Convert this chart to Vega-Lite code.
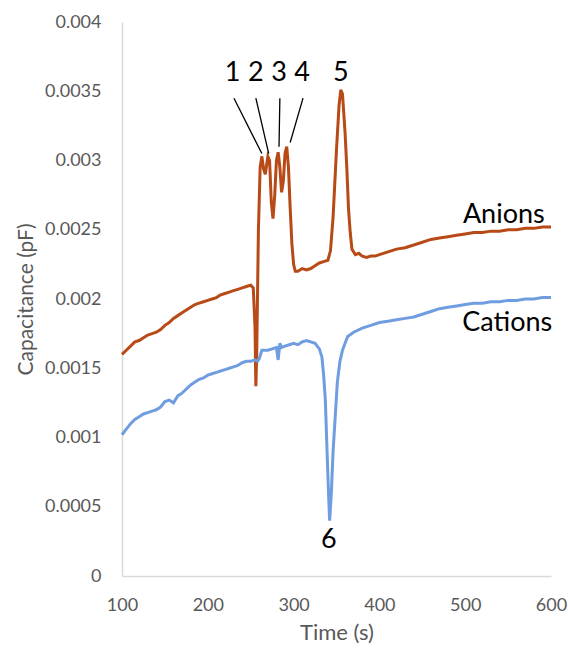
{
  "$schema": "https://vega.github.io/schema/vega-lite/v6.json",
  "autosize": {"type": "none"},
  "width": 429,
  "height": 554,
  "padding": {"left": 122, "top": 22, "right": 17, "bottom": 72},
  "background": "white",
  "config": {"view": {"stroke": null}, "font": "Lato"},
  "datasets": {
    "series": [
      {"t": 100, "v": 0.00160, "s": "Anions"},
      {"t": 105, "v": 0.00163, "s": "Anions"},
      {"t": 110, "v": 0.00166, "s": "Anions"},
      {"t": 115, "v": 0.00169, "s": "Anions"},
      {"t": 120, "v": 0.00170, "s": "Anions"},
      {"t": 125, "v": 0.00172, "s": "Anions"},
      {"t": 130, "v": 0.00174, "s": "Anions"},
      {"t": 135, "v": 0.00175, "s": "Anions"},
      {"t": 140, "v": 0.00176, "s": "Anions"},
      {"t": 145, "v": 0.00178, "s": "Anions"},
      {"t": 150, "v": 0.00181, "s": "Anions"},
      {"t": 155, "v": 0.00183, "s": "Anions"},
      {"t": 160, "v": 0.00186, "s": "Anions"},
      {"t": 165, "v": 0.00188, "s": "Anions"},
      {"t": 170, "v": 0.00190, "s": "Anions"},
      {"t": 175, "v": 0.00192, "s": "Anions"},
      {"t": 180, "v": 0.00194, "s": "Anions"},
      {"t": 185, "v": 0.00196, "s": "Anions"},
      {"t": 190, "v": 0.00197, "s": "Anions"},
      {"t": 195, "v": 0.00198, "s": "Anions"},
      {"t": 200, "v": 0.00199, "s": "Anions"},
      {"t": 205, "v": 0.00200, "s": "Anions"},
      {"t": 210, "v": 0.00201, "s": "Anions"},
      {"t": 215, "v": 0.00203, "s": "Anions"},
      {"t": 220, "v": 0.00204, "s": "Anions"},
      {"t": 225, "v": 0.00205, "s": "Anions"},
      {"t": 230, "v": 0.00206, "s": "Anions"},
      {"t": 235, "v": 0.00207, "s": "Anions"},
      {"t": 240, "v": 0.00208, "s": "Anions"},
      {"t": 245, "v": 0.00209, "s": "Anions"},
      {"t": 250, "v": 0.00210, "s": "Anions"},
      {"t": 253, "v": 0.00208, "s": "Anions"},
      {"t": 255, "v": 0.00180, "s": "Anions"},
      {"t": 256, "v": 0.00137, "s": "Anions"},
      {"t": 257, "v": 0.00160, "s": "Anions"},
      {"t": 259, "v": 0.00250, "s": "Anions"},
      {"t": 261, "v": 0.00295, "s": "Anions"},
      {"t": 263, "v": 0.00303, "s": "Anions"},
      {"t": 265, "v": 0.00294, "s": "Anions"},
      {"t": 267, "v": 0.00290, "s": "Anions"},
      {"t": 270, "v": 0.00303, "s": "Anions"},
      {"t": 272, "v": 0.00300, "s": "Anions"},
      {"t": 274, "v": 0.00270, "s": "Anions"},
      {"t": 276, "v": 0.00258, "s": "Anions"},
      {"t": 278, "v": 0.00275, "s": "Anions"},
      {"t": 280, "v": 0.00300, "s": "Anions"},
      {"t": 282, "v": 0.00306, "s": "Anions"},
      {"t": 284, "v": 0.00295, "s": "Anions"},
      {"t": 286, "v": 0.00277, "s": "Anions"},
      {"t": 288, "v": 0.00285, "s": "Anions"},
      {"t": 290, "v": 0.00305, "s": "Anions"},
      {"t": 292, "v": 0.00310, "s": "Anions"},
      {"t": 294, "v": 0.00295, "s": "Anions"},
      {"t": 296, "v": 0.00266, "s": "Anions"},
      {"t": 298, "v": 0.00240, "s": "Anions"},
      {"t": 300, "v": 0.00225, "s": "Anions"},
      {"t": 302, "v": 0.00220, "s": "Anions"},
      {"t": 305, "v": 0.00220, "s": "Anions"},
      {"t": 310, "v": 0.00222, "s": "Anions"},
      {"t": 315, "v": 0.00221, "s": "Anions"},
      {"t": 320, "v": 0.00222, "s": "Anions"},
      {"t": 325, "v": 0.00224, "s": "Anions"},
      {"t": 330, "v": 0.00226, "s": "Anions"},
      {"t": 335, "v": 0.00227, "s": "Anions"},
      {"t": 340, "v": 0.00228, "s": "Anions"},
      {"t": 343, "v": 0.00235, "s": "Anions"},
      {"t": 346, "v": 0.00259, "s": "Anions"},
      {"t": 350, "v": 0.00308, "s": "Anions"},
      {"t": 353, "v": 0.00340, "s": "Anions"},
      {"t": 355, "v": 0.00351, "s": "Anions"},
      {"t": 357, "v": 0.00348, "s": "Anions"},
      {"t": 360, "v": 0.00320, "s": "Anions"},
      {"t": 362, "v": 0.00295, "s": "Anions"},
      {"t": 364, "v": 0.00265, "s": "Anions"},
      {"t": 366, "v": 0.00248, "s": "Anions"},
      {"t": 368, "v": 0.00236, "s": "Anions"},
      {"t": 372, "v": 0.00232, "s": "Anions"},
      {"t": 376, "v": 0.00233, "s": "Anions"},
      {"t": 380, "v": 0.00231, "s": "Anions"},
      {"t": 385, "v": 0.00230, "s": "Anions"},
      {"t": 390, "v": 0.00231, "s": "Anions"},
      {"t": 395, "v": 0.00231, "s": "Anions"},
      {"t": 400, "v": 0.00232, "s": "Anions"},
      {"t": 410, "v": 0.00234, "s": "Anions"},
      {"t": 420, "v": 0.00236, "s": "Anions"},
      {"t": 430, "v": 0.00237, "s": "Anions"},
      {"t": 440, "v": 0.00239, "s": "Anions"},
      {"t": 450, "v": 0.00241, "s": "Anions"},
      {"t": 460, "v": 0.00243, "s": "Anions"},
      {"t": 470, "v": 0.00244, "s": "Anions"},
      {"t": 480, "v": 0.00245, "s": "Anions"},
      {"t": 490, "v": 0.00246, "s": "Anions"},
      {"t": 500, "v": 0.00247, "s": "Anions"},
      {"t": 510, "v": 0.00248, "s": "Anions"},
      {"t": 520, "v": 0.00248, "s": "Anions"},
      {"t": 530, "v": 0.00249, "s": "Anions"},
      {"t": 540, "v": 0.00249, "s": "Anions"},
      {"t": 550, "v": 0.00250, "s": "Anions"},
      {"t": 560, "v": 0.00250, "s": "Anions"},
      {"t": 570, "v": 0.00251, "s": "Anions"},
      {"t": 580, "v": 0.00251, "s": "Anions"},
      {"t": 590, "v": 0.00252, "s": "Anions"},
      {"t": 600, "v": 0.00252, "s": "Anions"},
      {"t": 100, "v": 0.00102, "s": "Cations"},
      {"t": 105, "v": 0.00106, "s": "Cations"},
      {"t": 110, "v": 0.00110, "s": "Cations"},
      {"t": 115, "v": 0.00113, "s": "Cations"},
      {"t": 120, "v": 0.00115, "s": "Cations"},
      {"t": 125, "v": 0.00117, "s": "Cations"},
      {"t": 130, "v": 0.00118, "s": "Cations"},
      {"t": 135, "v": 0.00119, "s": "Cations"},
      {"t": 140, "v": 0.00120, "s": "Cations"},
      {"t": 145, "v": 0.00122, "s": "Cations"},
      {"t": 150, "v": 0.00126, "s": "Cations"},
      {"t": 155, "v": 0.00127, "s": "Cations"},
      {"t": 160, "v": 0.00125, "s": "Cations"},
      {"t": 165, "v": 0.00130, "s": "Cations"},
      {"t": 170, "v": 0.00132, "s": "Cations"},
      {"t": 175, "v": 0.00135, "s": "Cations"},
      {"t": 180, "v": 0.00138, "s": "Cations"},
      {"t": 185, "v": 0.00140, "s": "Cations"},
      {"t": 190, "v": 0.00142, "s": "Cations"},
      {"t": 195, "v": 0.00143, "s": "Cations"},
      {"t": 200, "v": 0.00145, "s": "Cations"},
      {"t": 205, "v": 0.00146, "s": "Cations"},
      {"t": 210, "v": 0.00147, "s": "Cations"},
      {"t": 215, "v": 0.00148, "s": "Cations"},
      {"t": 220, "v": 0.00149, "s": "Cations"},
      {"t": 225, "v": 0.00150, "s": "Cations"},
      {"t": 230, "v": 0.00151, "s": "Cations"},
      {"t": 235, "v": 0.00152, "s": "Cations"},
      {"t": 240, "v": 0.00154, "s": "Cations"},
      {"t": 245, "v": 0.00155, "s": "Cations"},
      {"t": 250, "v": 0.00155, "s": "Cations"},
      {"t": 255, "v": 0.00156, "s": "Cations"},
      {"t": 258, "v": 0.00155, "s": "Cations"},
      {"t": 260, "v": 0.00157, "s": "Cations"},
      {"t": 263, "v": 0.00163, "s": "Cations"},
      {"t": 270, "v": 0.00163, "s": "Cations"},
      {"t": 275, "v": 0.00164, "s": "Cations"},
      {"t": 280, "v": 0.00165, "s": "Cations"},
      {"t": 282, "v": 0.00156, "s": "Cations"},
      {"t": 284, "v": 0.00168, "s": "Cations"},
      {"t": 286, "v": 0.00165, "s": "Cations"},
      {"t": 290, "v": 0.00166, "s": "Cations"},
      {"t": 295, "v": 0.00167, "s": "Cations"},
      {"t": 300, "v": 0.00168, "s": "Cations"},
      {"t": 305, "v": 0.00167, "s": "Cations"},
      {"t": 310, "v": 0.00169, "s": "Cations"},
      {"t": 315, "v": 0.00170, "s": "Cations"},
      {"t": 320, "v": 0.00169, "s": "Cations"},
      {"t": 325, "v": 0.00168, "s": "Cations"},
      {"t": 330, "v": 0.00164, "s": "Cations"},
      {"t": 333, "v": 0.00158, "s": "Cations"},
      {"t": 335, "v": 0.00145, "s": "Cations"},
      {"t": 337, "v": 0.00127, "s": "Cations"},
      {"t": 339, "v": 0.00090, "s": "Cations"},
      {"t": 341, "v": 0.00055, "s": "Cations"},
      {"t": 342, "v": 0.00040, "s": "Cations"},
      {"t": 344, "v": 0.00060, "s": "Cations"},
      {"t": 346, "v": 0.00090, "s": "Cations"},
      {"t": 348, "v": 0.00110, "s": "Cations"},
      {"t": 351, "v": 0.00140, "s": "Cations"},
      {"t": 354, "v": 0.00155, "s": "Cations"},
      {"t": 357, "v": 0.00163, "s": "Cations"},
      {"t": 360, "v": 0.00168, "s": "Cations"},
      {"t": 363, "v": 0.00173, "s": "Cations"},
      {"t": 370, "v": 0.00176, "s": "Cations"},
      {"t": 380, "v": 0.00179, "s": "Cations"},
      {"t": 390, "v": 0.00181, "s": "Cations"},
      {"t": 400, "v": 0.00183, "s": "Cations"},
      {"t": 410, "v": 0.00184, "s": "Cations"},
      {"t": 420, "v": 0.00185, "s": "Cations"},
      {"t": 430, "v": 0.00186, "s": "Cations"},
      {"t": 440, "v": 0.00187, "s": "Cations"},
      {"t": 450, "v": 0.00189, "s": "Cations"},
      {"t": 460, "v": 0.00191, "s": "Cations"},
      {"t": 470, "v": 0.00193, "s": "Cations"},
      {"t": 480, "v": 0.00194, "s": "Cations"},
      {"t": 490, "v": 0.00195, "s": "Cations"},
      {"t": 500, "v": 0.00196, "s": "Cations"},
      {"t": 510, "v": 0.00197, "s": "Cations"},
      {"t": 520, "v": 0.00197, "s": "Cations"},
      {"t": 530, "v": 0.00198, "s": "Cations"},
      {"t": 540, "v": 0.00198, "s": "Cations"},
      {"t": 550, "v": 0.00199, "s": "Cations"},
      {"t": 560, "v": 0.00199, "s": "Cations"},
      {"t": 570, "v": 0.00200, "s": "Cations"},
      {"t": 580, "v": 0.00200, "s": "Cations"},
      {"t": 590, "v": 0.00201, "s": "Cations"},
      {"t": 600, "v": 0.00201, "s": "Cations"}
    ],
    "leaders": [
      {"t1": 230.5, "v1": 0.00345, "t2": 263, "v2": 0.00305},
      {"t1": 256, "v1": 0.00345, "t2": 271, "v2": 0.00305},
      {"t1": 284, "v1": 0.00345, "t2": 283, "v2": 0.00310},
      {"t1": 311, "v1": 0.00345, "t2": 296, "v2": 0.00313}
    ],
    "labels": [
      {"t": 229, "v": 0.00363, "label": "1"},
      {"t": 256, "v": 0.00363, "label": "2"},
      {"t": 283, "v": 0.00363, "label": "3"},
      {"t": 310, "v": 0.00363, "label": "4"},
      {"t": 355, "v": 0.00363, "label": "5"},
      {"t": 341, "v": 0.00026, "label": "6"},
      {"t": 545, "v": 0.00261, "label": "Anions"},
      {"t": 549, "v": 0.00183, "label": "Cations"}
    ]
  },
  "layer": [
    {
      "data": {"name": "series"},
      "mark": {"type": "line", "strokeWidth": 3, "interpolate": "linear"},
      "encoding": {
        "x": {
          "field": "t", "type": "quantitative",
          "scale": {"domain": [100, 600], "nice": false},
          "axis": {
            "title": "Time (s)", "values": [100, 200, 300, 400, 500, 600],
            "grid": false, "ticks": false, "labelFlush": false, "domainColor": "#D9D9D9", "domainWidth": 1.5,
            "labelFontSize": 18, "labelColor": "#595959", "labelPadding": 20,
            "titleFontSize": 22, "titleColor": "#595959", "titleFontWeight": "normal", "titlePadding": 8,
            "labelFont": "Lato", "titleFont": "Lato"
          }
        },
        "y": {
          "field": "v", "type": "quantitative",
          "scale": {"domain": [0, 0.004], "nice": false},
          "axis": {
            "title": "Capacitance (pF)", "values": [0, 0.0005, 0.001, 0.0015, 0.002, 0.0025, 0.003, 0.0035, 0.004],
            "format": "~g", "grid": false, "ticks": false, "labelFlush": false, "domainColor": "#D9D9D9", "domainWidth": 1.5,
            "labelFontSize": 18, "labelColor": "#595959", "labelPadding": 21,
            "titleFontSize": 21, "titleColor": "#595959", "titleFontWeight": "normal", "titlePadding": 8,
            "labelFont": "Lato", "titleFont": "Lato"
          }
        },
        "color": {
          "field": "s", "type": "nominal",
          "scale": {"domain": ["Anions", "Cations"], "range": ["#B84A17", "#6F9DE0"]},
          "legend": null
        },
        "detail": {"field": "s"}
      }
    },
    {
      "data": {"name": "leaders"},
      "mark": {"type": "rule", "color": "black", "strokeWidth": 1.3},
      "encoding": {
        "x": {"field": "t1", "type": "quantitative"},
        "y": {"field": "v1", "type": "quantitative"},
        "x2": {"field": "t2"},
        "y2": {"field": "v2"}
      }
    },
    {
      "data": {"name": "labels"},
      "mark": {"type": "text", "fontSize": 27, "color": "black", "align": "center", "baseline": "middle", "font": "Lato"},
      "encoding": {
        "x": {"field": "t", "type": "quantitative"},
        "y": {"field": "v", "type": "quantitative"},
        "text": {"field": "label"}
      }
    }
  ]
}
